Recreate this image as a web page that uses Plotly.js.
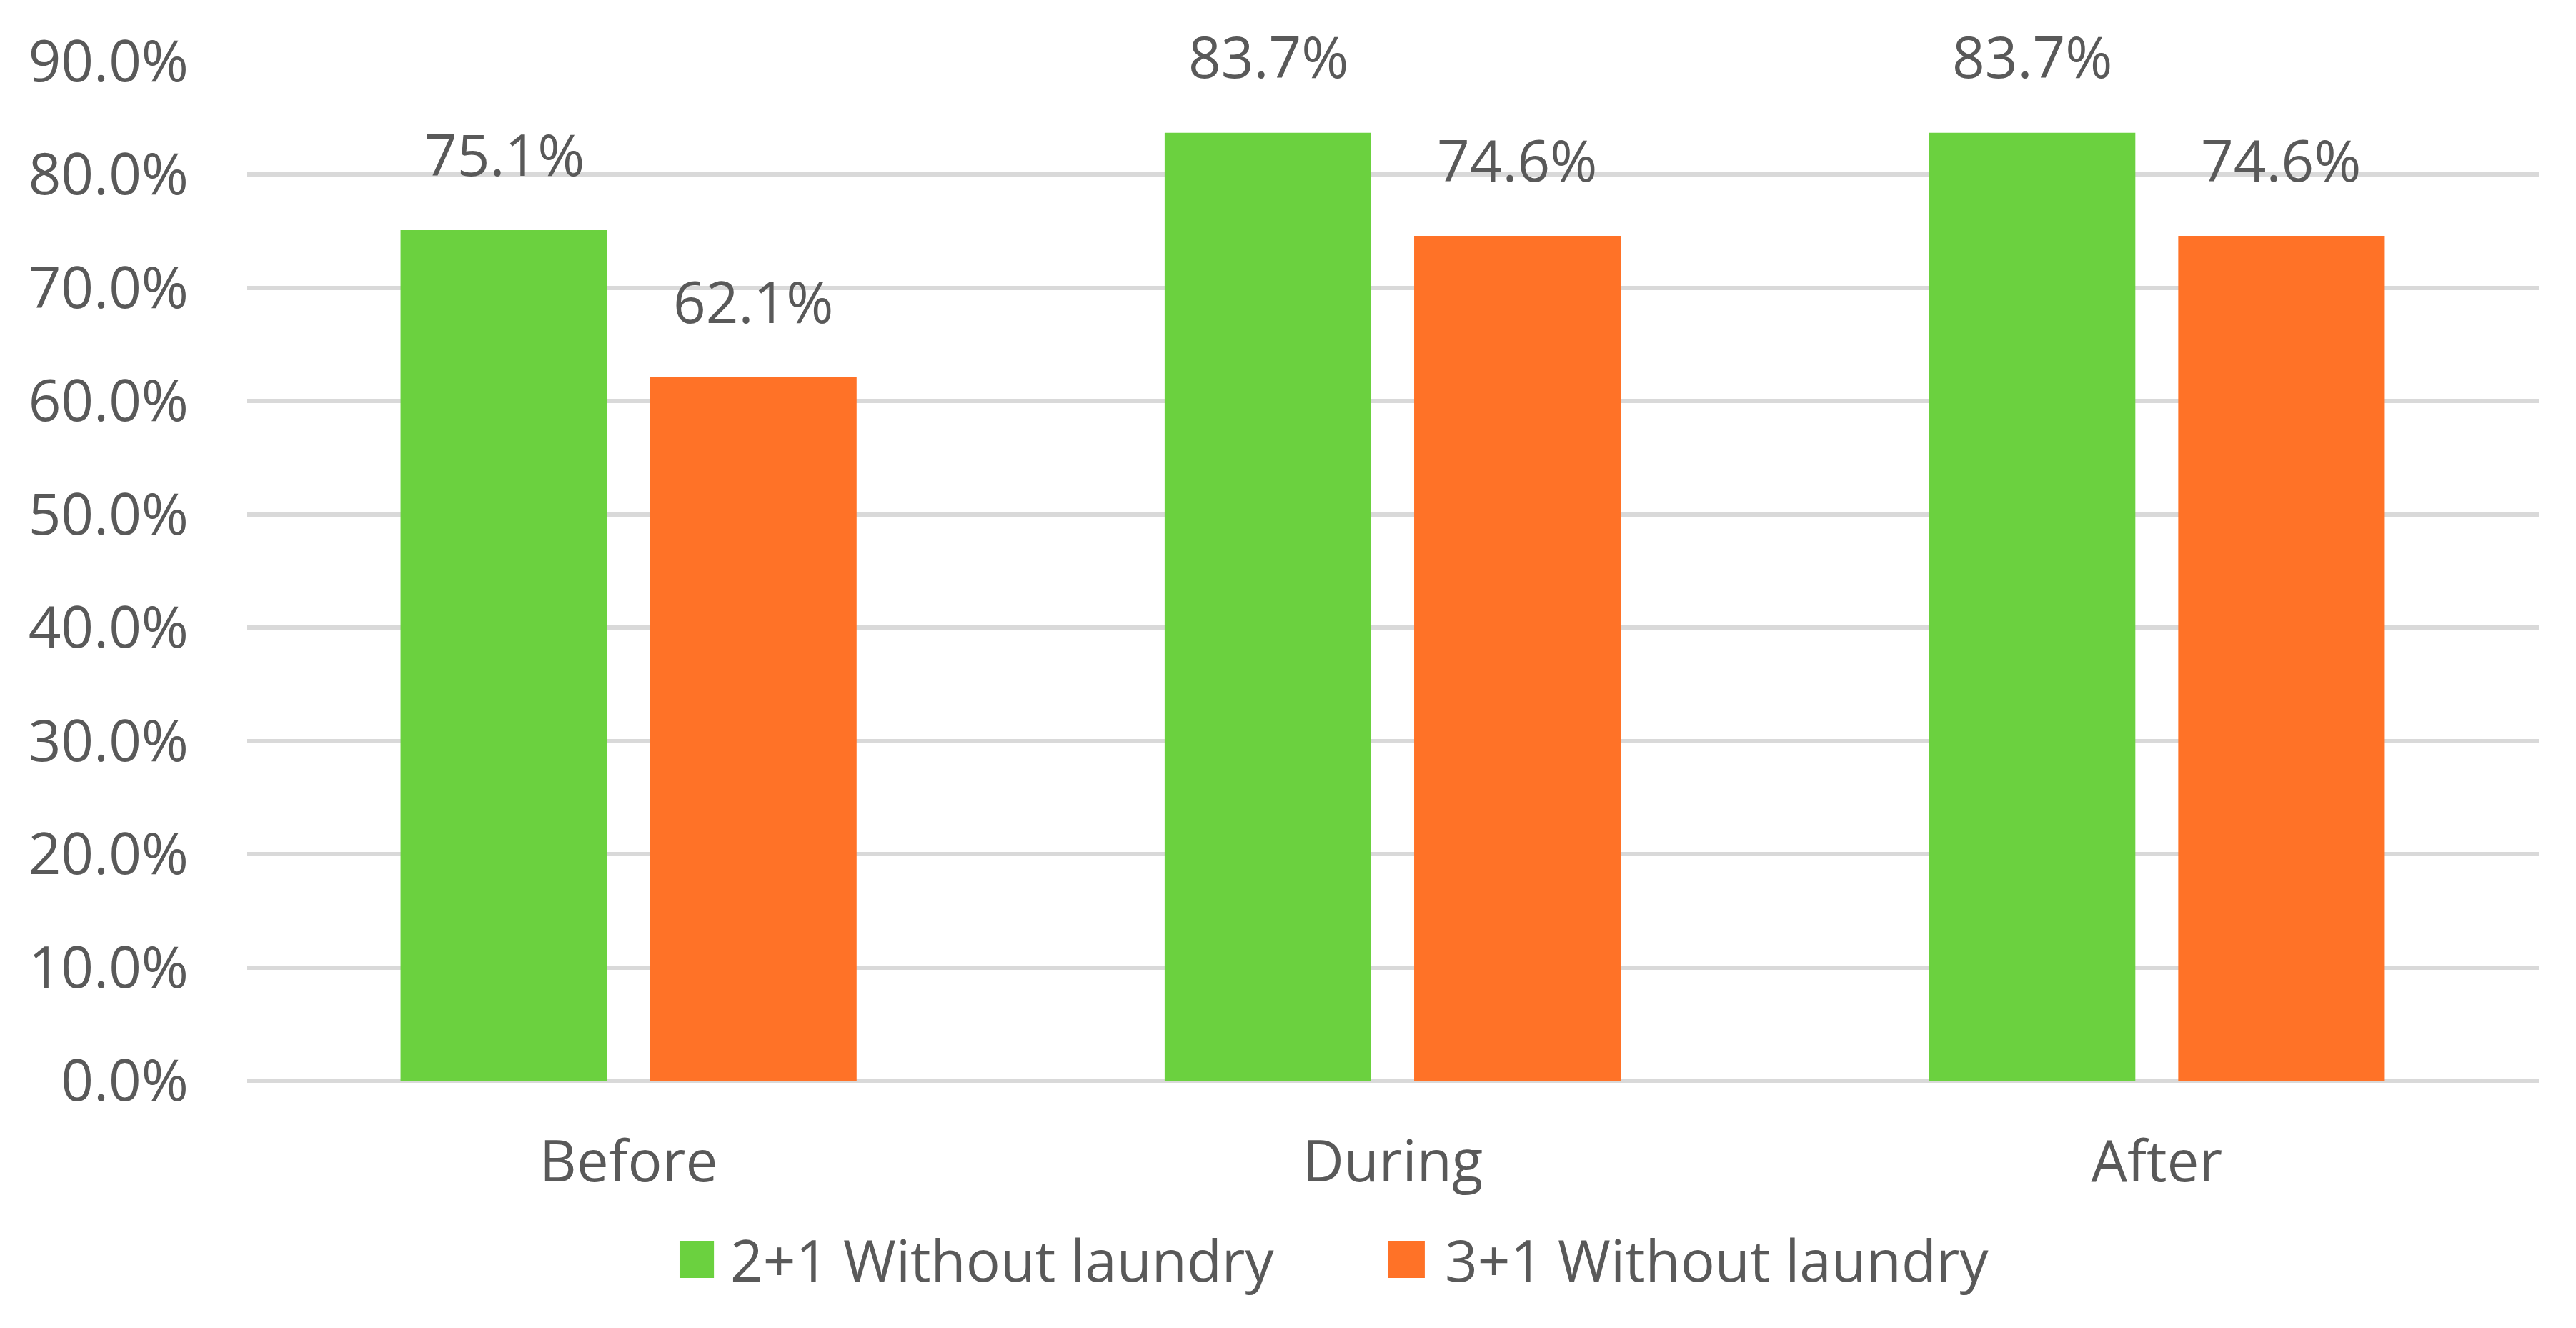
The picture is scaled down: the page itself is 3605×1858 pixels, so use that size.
<!DOCTYPE html>
<html>
<head>
<meta charset="utf-8">
<script src="https://cdn.plot.ly/plotly-3.0.1.min.js"></script>
<style>
  html, body { margin: 0; padding: 0; background: #ffffff; }
  #chart { width: 3605px; height: 1858px; }
</style>
</head>
<body>
<div id="chart"></div>
<script>
// ---- data ----
const categories = ["Before", "During", "After"];
const seriesNames = ["2+1 Without laundry", "3+1 Without laundry"];
const series1 = [0.751, 0.837, 0.837];
const series2 = [0.621, 0.746, 0.746];
const tickValues = [0, 0.1, 0.2, 0.3, 0.4, 0.5, 0.6, 0.7, 0.8, 0.9];
const tickLabels = ["0.0%", "10.0%", "20.0%", "30.0%", "40.0%", "50.0%", "60.0%", "70.0%", "80.0%", "90.0%"];

// ---- style ----
const colors = ["#6BD13F", "#FF7227"];
const textColor = "#595959";
const fontFamily = "'Open Sans', 'DejaVu Sans', sans-serif";
const fontSize = 80;
const barOffsetPx = 174;   // half a bar slot, in pixels
const labelLiftPx = 108;

const allSeries = [series1, series2];

const traces = allSeries.map((vals, i) => ({
  type: "bar",
  name: seriesNames[i],
  x: categories,
  y: vals,
  marker: { color: colors[i], line: { width: 0 } },
  hoverinfo: "x+y",
  showlegend: false
}));

const annotations = [];
allSeries.forEach((vals, i) => {
  vals.forEach((v, j) => {
    annotations.push({
      x: categories[j],
      y: v,
      xref: "x",
      yref: "y",
      xshift: (i === 0 ? -1 : 1) * barOffsetPx,
      yshift: labelLiftPx,
      yanchor: "middle",
      xanchor: "center",
      showarrow: false,
      text: (v * 100).toFixed(1) + "%",
      font: { family: fontFamily, size: fontSize, color: textColor }
    });
  });
});

// custom legend (large square swatches like the original)
const legendY0 = -0.1936, legendY1 = -0.1571, legendYc = -0.1753;
const legendItems = [
  { x0: 0.1889, x1: 0.2039, tx: 0.2105 },
  { x0: 0.4981, x1: 0.5140, tx: 0.5222 }
];
const shapes = [];
legendItems.forEach((it, i) => {
  shapes.push({
    type: "rect", xref: "paper", yref: "paper",
    x0: it.x0, x1: it.x1, y0: legendY0, y1: legendY1,
    fillcolor: colors[i], line: { width: 0 }
  });
  annotations.push({
    xref: "paper", yref: "paper",
    x: it.tx, y: legendYc,
    xanchor: "left", yanchor: "middle",
    showarrow: false,
    text: seriesNames[i],
    font: { family: fontFamily, size: fontSize, color: textColor }
  });
});

const layout = {
  width: 3605,
  height: 1858,
  margin: { l: 345, r: 52, t: 86, b: 346 },
  paper_bgcolor: "#ffffff",
  plot_bgcolor: "#ffffff",
  barmode: "group",
  bargap: 0.347,
  bargroupgap: 0.172,
  showlegend: false,
  font: { family: fontFamily, size: fontSize, color: textColor },
  xaxis: {
    type: "category",
    tickfont: { family: fontFamily, size: fontSize, color: textColor },
    showgrid: false,
    showline: false,
    zeroline: false,
    ticks: "",
    ticklabelstandoff: 60
  },
  yaxis: {
    range: [0, 0.9],
    tickvals: tickValues,
    ticktext: tickLabels,
    tickfont: { family: fontFamily, size: fontSize, color: textColor },
    showgrid: true,
    gridcolor: "#D9D9D9",
    gridwidth: 6,
    zeroline: true,
    zerolinecolor: "#D9D9D9",
    zerolinewidth: 6,
    showline: false,
    ticks: "",
    ticklabelstandoff: 80,
    fixedrange: true
  },
  annotations: annotations,
  shapes: shapes
};

Plotly.newPlot("chart", traces, layout, { staticPlot: true, displayModeBar: false });
</script>
</body>
</html>
